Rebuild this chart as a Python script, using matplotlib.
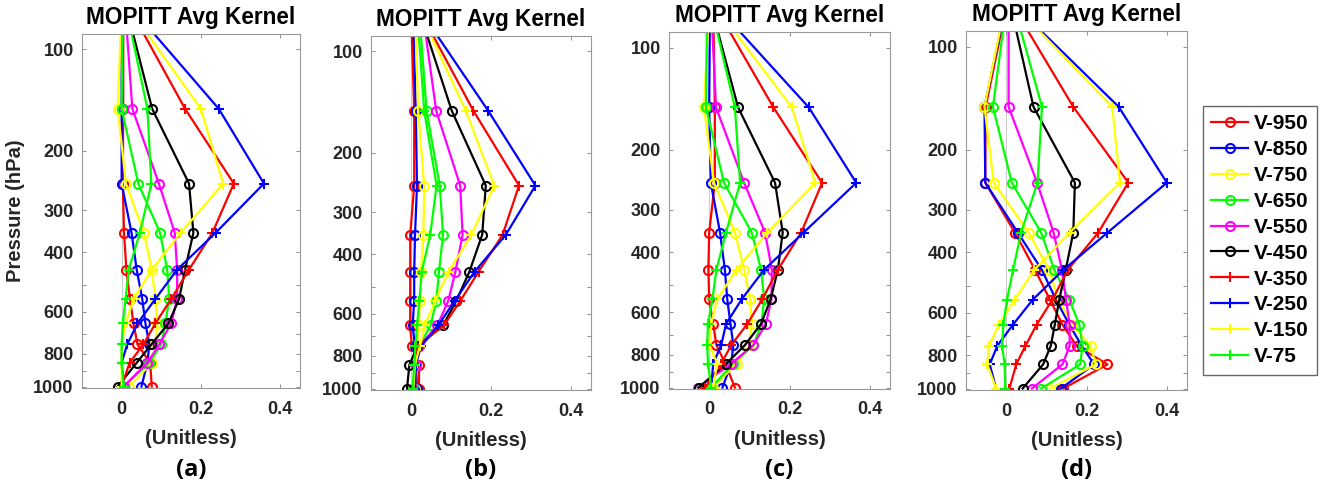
import matplotlib.pyplot as plt

plt.rcParams['font.family'] = ['Liberation Sans', 'DejaVu Sans']

# pressure level of each kernel row point (hPa), surface first
pressure = [1000, 850, 750, 650, 550, 450, 350, 250, 150, 75]

names = ['V-950', 'V-850', 'V-750', 'V-650', 'V-550',
         'V-450', 'V-350', 'V-250', 'V-150', 'V-75']
colors = ['red', 'blue', 'yellow', (0, 1, 0), 'magenta',
          'black', 'red', 'blue', 'yellow', (0, 1, 0)]
markers = ['o', 'o', 'o', 'o', 'o', 'o', '+', '+', '+', '+']

# (a)
ak_a = [
    [0.076, 0.072, 0.040, 0.030, 0.021, 0.012, 0.006, 0.003, 0.004, 0.004],
    [0.050, 0.065, 0.070, 0.060, 0.052, 0.038, 0.025, 0.000, 0.000, 0.000],
    [0.018, 0.077, 0.085, 0.090, 0.085, 0.076, 0.056, 0.011, -0.010, 0.000],
    [0.005, 0.070, 0.100, 0.110, 0.120, 0.115, 0.097, 0.042, 0.000, 0.003],
    [0.005, 0.065, 0.095, 0.125, 0.140, 0.140, 0.134, 0.094, 0.027, 0.009],
    [-0.010, 0.038, 0.075, 0.118, 0.145, 0.160, 0.181, 0.170, 0.077, 0.012],
    [0.000, 0.020, 0.055, 0.085, 0.125, 0.170, 0.229, 0.283, 0.160, 0.019],
    [0.005, 0.000, 0.014, 0.040, 0.085, 0.140, 0.237, 0.359, 0.245, 0.024],
    [0.000, 0.000, 0.000, 0.010, 0.030, 0.076, 0.149, 0.256, 0.200, 0.017],
    [0.005, 0.000, 0.000, 0.003, 0.010, 0.018, 0.046, 0.075, 0.065, 0.011],
]

# (b)
ak_b = [
    [0.020, 0.020, 0.002, -0.002, -0.002, -0.002, -0.002, 0.008, 0.008, 0.000],
    [0.015, 0.012, 0.010, 0.004, 0.008, 0.008, 0.010, 0.015, 0.012, 0.005],
    [0.010, 0.012, 0.015, 0.020, 0.022, 0.025, 0.031, 0.033, 0.018, 0.010],
    [0.008, 0.012, 0.020, 0.049, 0.063, 0.070, 0.080, 0.072, 0.039, 0.020],
    [0.005, 0.012, 0.020, 0.066, 0.093, 0.111, 0.129, 0.123, 0.063, 0.028],
    [-0.010, -0.004, 0.016, 0.080, 0.113, 0.146, 0.178, 0.187, 0.102, 0.019],
    [0.010, 0.012, 0.015, 0.082, 0.123, 0.169, 0.229, 0.270, 0.156, 0.020],
    [0.010, 0.012, 0.025, 0.068, 0.109, 0.159, 0.237, 0.311, 0.193, 0.021],
    [0.006, 0.010, 0.022, 0.035, 0.060, 0.094, 0.151, 0.208, 0.137, 0.019],
    [0.004, 0.008, 0.011, 0.015, 0.021, 0.027, 0.048, 0.064, 0.033, 0.015],
]

# (c)
ak_c = [
    [0.064, 0.040, 0.018, 0.010, 0.000, -0.002, 0.000, 0.014, 0.014, 0.010],
    [0.033, 0.055, 0.060, 0.053, 0.045, 0.039, 0.027, 0.004, 0.000, 0.002],
    [0.010, 0.068, 0.100, 0.106, 0.102, 0.087, 0.064, 0.012, -0.013, 0.000],
    [0.005, 0.060, 0.110, 0.130, 0.137, 0.129, 0.106, 0.037, -0.008, -0.005],
    [-0.028, 0.055, 0.110, 0.141, 0.155, 0.156, 0.139, 0.087, 0.017, 0.005],
    [-0.026, 0.043, 0.089, 0.129, 0.153, 0.171, 0.183, 0.164, 0.072, 0.004],
    [-0.010, 0.030, 0.055, 0.095, 0.132, 0.171, 0.229, 0.281, 0.160, 0.013],
    [0.005, 0.010, 0.030, 0.042, 0.081, 0.137, 0.235, 0.366, 0.248, 0.016],
    [0.010, 0.020, 0.000, 0.005, 0.020, 0.068, 0.145, 0.264, 0.206, 0.013],
    [0.005, -0.003, -0.005, -0.003, 0.008, 0.018, 0.042, 0.077, 0.064, 0.004],
]

# (d)
ak_d = [
    [0.142, 0.252, 0.175, 0.140, 0.109, 0.072, 0.022, -0.052, -0.051, 0.002],
    [0.136, 0.219, 0.188, 0.157, 0.124, 0.089, 0.029, -0.052, -0.054, 0.000],
    [0.109, 0.223, 0.210, 0.165, 0.130, 0.107, 0.056, -0.031, -0.054, -0.002],
    [0.087, 0.184, 0.190, 0.182, 0.157, 0.120, 0.087, 0.014, -0.033, 0.001],
    [0.064, 0.140, 0.158, 0.158, 0.149, 0.139, 0.118, 0.077, 0.006, 0.006],
    [0.041, 0.092, 0.111, 0.121, 0.132, 0.148, 0.167, 0.171, 0.068, 0.010],
    [0.008, 0.025, 0.048, 0.076, 0.115, 0.153, 0.229, 0.304, 0.167, 0.014],
    [-0.025, -0.041, -0.022, 0.017, 0.066, 0.142, 0.252, 0.400, 0.280, 0.018],
    [-0.025, -0.047, -0.043, -0.018, 0.021, 0.070, 0.158, 0.283, 0.264, 0.018],
    [-0.002, -0.004, -0.010, -0.007, 0.002, 0.017, 0.037, 0.078, 0.089, 0.018],
]

panels = [ak_a, ak_b, ak_c, ak_d]
tags = ['(a)', '(b)', '(c)', '(d)']

W, H = 1322, 495
# axes boxes in pixels: left, top, right, bottom
boxes = [(82, 34, 300, 388), (371, 36, 591, 390), (669, 32, 890, 389), (966, 31, 1187, 390)]

fig = plt.figure(figsize=(W / 100, H / 100), dpi=100)

for k in range(4):
    l, t, r, b = boxes[k]
    ax = fig.add_axes([l / W, 1 - b / H, (r - l) / W, (b - t) / H])
    ax.axvline(0, color='0.8', lw=0.8, zorder=0)
    for row, c, m, n in zip(panels[k], colors, markers, names):
        ax.plot(row, pressure, color=c, marker=m, mfc='none', ms=6.5, mew=1.5,
                lw=1.6, label=n)
    ax.set_yscale('log')
    ax.set_ylim(1010, 90)
    ax.set_xlim(-0.1, 0.45)
    ax.set_yticks([100, 200, 300, 400, 500, 600, 700, 800, 900, 1000])
    ax.set_yticklabels(['100', '200', '300', '400', '', '600', '', '800', '', '1000'])
    ax.minorticks_off()
    ax.set_xticks([0, 0.2, 0.4])
    ax.set_xticklabels(['0', '0.2', '0.4'])
    ax.tick_params(direction='in', length=3, width=0.6, color='0.5',
                   top=True, right=True, labelsize=13, labelcolor='#262626', pad=6)
    ax.tick_params(axis='x', pad=9)
    for lab in ax.get_xticklabels() + ax.get_yticklabels():
        lab.set_fontweight('bold')
    for s in ax.spines.values():
        s.set_color('0.6')
        s.set_linewidth(0.8)
    ax.set_title('MOPITT Avg Kernel', fontsize=16.3, fontweight='bold', pad=7)
    ax.set_xlabel('(Unitless)', fontsize=14.5, fontweight='bold', color='#262626', labelpad=8)
    if k == 0:
        ax.set_ylabel('Pressure (hPa)', fontsize=14.5, fontweight='bold', color='#262626', labelpad=6)
    fig.text((l + r) / 2 / W, 1 - 470 / H, tags[k], ha='center', va='center',
             fontsize=17, fontweight='bold', family=['Open Sans', 'DejaVu Sans'])
    if k == 3:
        handles, labels = ax.get_legend_handles_labels()

fig.legend(handles, labels, loc='upper left', bbox_to_anchor=(1203 / W, 1 - 106 / H),
           borderaxespad=0, fancybox=False, edgecolor='0.4', framealpha=1,
           prop={'weight': 'bold', 'size': 15}, handlelength=1.75, handletextpad=0.3,
           labelspacing=0.33, borderpad=0.4)

fig.savefig('out.png', dpi=100)
